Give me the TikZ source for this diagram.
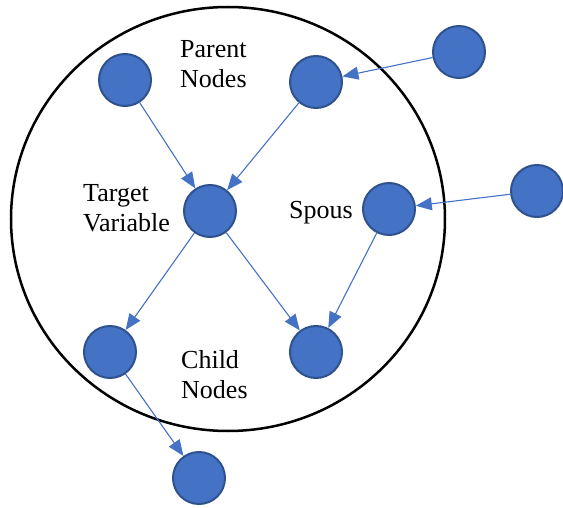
\documentclass[tikz,border=0pt]{standalone}
\usepackage{fontspec}
\setmainfont{Liberation Serif}
\usepackage{tikz}
\usetikzlibrary{arrows.meta,positioning}
\definecolor{nodeblue}{HTML}{4472C4}
\definecolor{edgeblue}{HTML}{2F528F}
\tikzset{var node/.style={
    circle,
    draw=edgeblue,
    fill=nodeblue,
    line width=2pt,
    minimum size=52pt,
    inner sep=0pt
  },
  dep/.style={
    draw=nodeblue,
    line width=1.1pt,
    -{Triangle[length=16pt,width=13pt]}
  },
  caption/.style={
    font=\fontsize{26}{30}\selectfont,
    align=left,
    inner sep=0pt,
    anchor=base west
  }
}

\begin{document}
\begin{tikzpicture}[x=1pt,y=-1pt]
    \useasboundingbox (0,0) rectangle (563,508);
    % blanket
    \draw[line width=2.5pt] (228,219) ellipse [x radius=217, y radius=212];
    % nodes
    \node[var node] (par1) at (125,80) {};
    \node[var node] (par2) at (316,82) {};
    \node[var node] (copar) at (459,52) {};
    \node[var node] (target) at (210,211) {};
    \node[var node] (spous) at (389,209) {};
    \node[var node] (cospous) at (537,191) {};
    \node[var node] (child1) at (110,352) {};
    \node[var node] (child2) at (316,352) {};
    \node[var node] (grand) at (199,478) {};
    % labels (base = last line)
    \node[caption] (lparent) at (180,88) {Parent\\Nodes};
    \node[caption] (ltarget) at (83,232) {Target\\Variable};
    \node[caption] (lspous) at (289,219) {Spous};
    \node[caption] (lchild) at (181,398) {Child\\Nodes};
    % edges
    \draw[dep] (copar) -- (par2);
    \draw[dep] (cospous) -- (spous);
    \draw[dep] (par1) -- (target);
    \draw[dep] (par2) -- (target);
    \draw[dep] (target) -- (child1);
    \draw[dep] (target) -- (child2);
    \draw[dep] (spous) -- (child2);
    \draw[dep] (child1) -- (grand);
\end{tikzpicture}
\end{document}
